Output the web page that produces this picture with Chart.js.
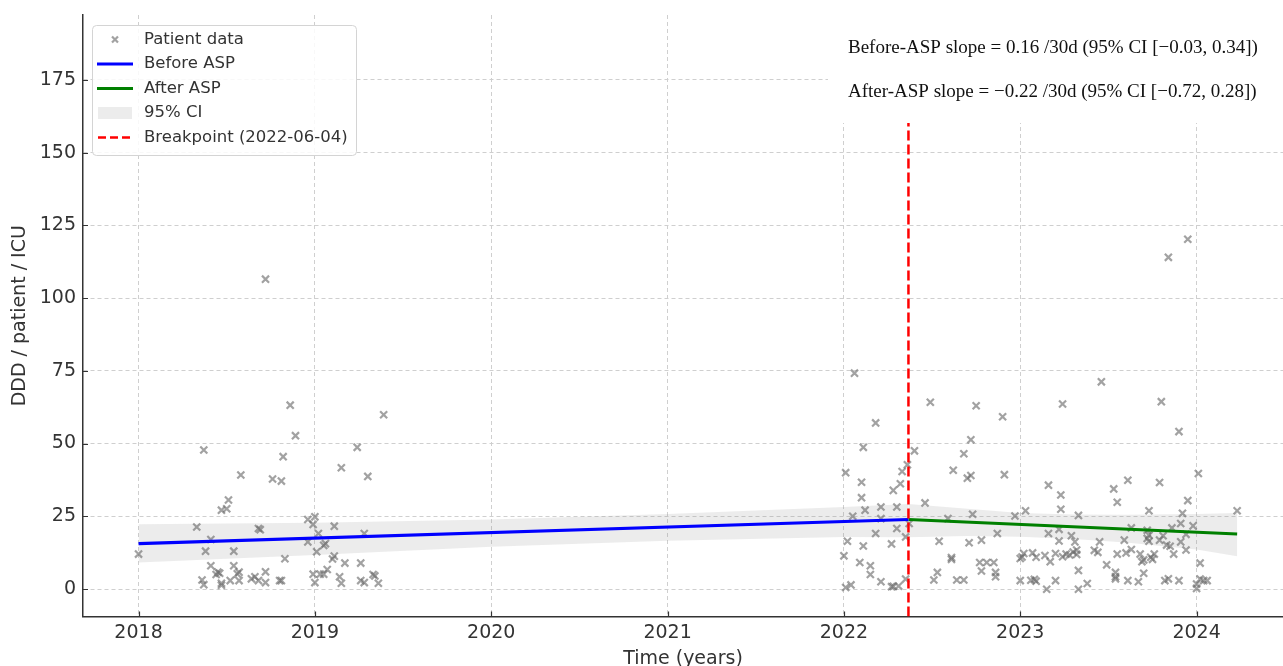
<!DOCTYPE html>
<html>
<head>
<meta charset="utf-8">
<title>DDD / patient / ICU – before and after ASP</title>
<script src="https://cdn.jsdelivr.net/npm/chart.js@4.4.1/dist/chart.umd.min.js"></script>
<style>
  html, body { margin: 0; padding: 0; background: #fff; overflow: hidden; }
  #wrap { width: 1283px; height: 666px; }
</style>
</head>
<body>
<div id="wrap"><canvas id="chart" width="1283" height="666"></canvas></div>
<script>
// patient points, before the programme (decimal years / DDD)
const beforeYears = [2018.00, 2018.33, 2018.37, 2018.41, 2018.38, 2018.41, 2018.36, 2018.37, 2018.45, 2018.46,
  2018.44, 2018.47, 2018.47, 2018.47, 2018.50, 2018.51, 2018.52, 2018.54, 2018.54, 2018.56,
  2018.57, 2018.57, 2018.58, 2018.64, 2018.66, 2018.68, 2018.68, 2018.69, 2018.72, 2018.72,
  2018.72, 2018.76, 2018.80, 2018.81, 2018.81, 2018.82, 2018.83, 2018.86, 2018.89, 2018.96,
  2018.96, 2018.99, 2018.99, 2019.00, 2019.00, 2019.01, 2019.02, 2019.03, 2019.05, 2019.05,
  2019.06, 2019.07, 2019.10, 2019.11, 2019.11, 2019.14, 2019.15, 2019.15, 2019.17, 2019.24,
  2019.26, 2019.26, 2019.28, 2019.28, 2019.30, 2019.33, 2019.34, 2019.36, 2019.39];
const beforeDDD = [12.0, 21.3, 47.8, 17.0, 13.0, 8.0, 3.1, 1.5, 5.8, 5.4,
  5.0, 2.0, 1.3, 27.1, 27.6, 30.6, 2.9, 13.0, 8.0, 5.2,
  5.8, 2.9, 39.2, 3.5, 4.2, 2.9, 20.8, 20.4, 106.5, 5.9,
  2.2, 37.8, 2.9, 37.1, 2.9, 45.5, 10.4, 63.2, 52.7, 23.9,
  16.2, 22.2, 5.1, 24.8, 2.2, 12.8, 19.1, 5.1, 5.1, 15.0,
  15.6, 6.7, 10.3, 11.3, 21.6, 4.2, 2.0, 41.7, 8.9, 48.7,
  8.9, 2.9, 19.1, 2.2, 38.7, 5.0, 4.5, 2.0, 59.9];

// patient points, 2022 onwards
const afterYears = [2022.00, 2022.01, 2022.01, 2022.02, 2022.04, 2022.05, 2022.06, 2022.09, 2022.10, 2022.10,
  2022.11, 2022.11, 2022.12, 2022.15, 2022.15, 2022.18, 2022.18, 2022.21, 2022.21, 2022.21,
  2022.27, 2022.27, 2022.28, 2022.28, 2022.30, 2022.30, 2022.31, 2022.32, 2022.33, 2022.35,
  2022.35, 2022.36, 2022.37, 2022.40, 2022.46, 2022.49, 2022.51, 2022.53, 2022.54, 2022.59,
  2022.61, 2022.61, 2022.62, 2022.64, 2022.68, 2022.68, 2022.70, 2022.71, 2022.72, 2022.72,
  2022.73, 2022.75, 2022.77, 2022.78, 2022.78, 2022.81, 2022.85, 2022.86, 2022.86, 2022.87,
  2022.90, 2022.91, 2022.97, 2023.00, 2023.00, 2023.01, 2023.02, 2023.03, 2023.06, 2023.07,
  2023.08, 2023.09, 2023.09, 2023.14, 2023.15, 2023.16, 2023.16, 2023.17, 2023.20, 2023.20,
  2023.22, 2023.22, 2023.23, 2023.23, 2023.24, 2023.24, 2023.26, 2023.28, 2023.29, 2023.30,
  2023.31, 2023.32, 2023.32, 2023.33, 2023.33, 2023.33, 2023.38, 2023.42, 2023.44, 2023.45,
  2023.46, 2023.49, 2023.53, 2023.54, 2023.54, 2023.54, 2023.55, 2023.55, 2023.59, 2023.60,
  2023.61, 2023.61, 2023.63, 2023.63, 2023.67, 2023.68, 2023.69, 2023.70, 2023.70, 2023.72,
  2023.72, 2023.73, 2023.73, 2023.73, 2023.74, 2023.75, 2023.76, 2023.79, 2023.79, 2023.80,
  2023.81, 2023.82, 2023.83, 2023.84, 2023.84, 2023.85, 2023.86, 2023.87, 2023.90, 2023.90,
  2023.91, 2023.91, 2023.92, 2023.94, 2023.94, 2023.95, 2023.95, 2023.98, 2024.00, 2024.00,
  2024.01, 2024.02, 2024.02, 2024.04, 2024.06, 2024.23];
const afterDDD = [11.4, 0.5, 40.0, 16.4, 1.4, 25.0, 74.2, 9.1, 36.7, 31.4,
  48.7, 14.8, 27.1, 8.0, 5.0, 57.1, 19.1, 28.2, 24.2, 2.5,
  15.5, 0.8, 33.9, 0.9, 28.2, 20.8, 1.0, 36.2, 40.4, 17.9,
  3.4, 42.7, 22.5, 47.5, 29.6, 64.2, 3.1, 5.7, 16.4, 24.2,
  10.8, 10.2, 40.8, 3.1, 46.5, 3.1, 38.1, 15.9, 39.0, 51.3,
  25.7, 63.0, 9.1, 6.2, 16.8, 9.1, 9.1, 5.7, 4.2, 19.1,
  59.2, 39.3, 25.1, 10.5, 2.9, 11.0, 12.2, 26.9, 3.0, 12.4,
  3.3, 10.9, 2.7, 11.5, -0.1, 35.7, 19.1, 9.4, 12.2, 2.9,
  20.5, 16.5, 32.3, 27.4, 63.6, 11.1, 12.0, 11.7, 18.3, 12.7,
  16.2, 13.4, 11.9, 25.3, 6.4, -0.1, 1.9, 13.3, 12.6, 16.2,
  71.2, 8.3, 34.4, 5.7, 4.2, 3.5, 29.8, 12.0, 16.8, 12.4,
  37.4, 2.9, 21.0, 13.6, 2.5, 12.0, 9.4, 10.0, 5.4, 20.2,
  17.4, 18.5, 16.4, 26.9, 10.9, 10.2, 12.0, 36.6, 16.8, 64.4,
  18.3, 2.9, 15.1, 3.5, 114.0, 14.7, 21.0, 12.0, 54.1, 2.9,
  22.5, 16.2, 26.0, 18.8, 13.4, 30.4, 120.2, 21.7, 1.7, 0.2,
  39.7, 8.9, 3.4, 2.9, 2.9, 26.9];

// fitted segments and their 95% CI
const fitBeforeX = [2018.0, 2022.366];
const fitBeforeY = [15.6, 23.9];
const fitAfterX = [2022.366, 2024.23];
const fitAfterY = [23.9, 18.9];
const ciBeforeX = [2018.0, 2019.0, 2020.0, 2021.0, 2022.0, 2022.366];
const ciBeforeHi = [22.3, 22.8, 23.9, 25.8, 28.2, 29.2];
const ciBeforeLo = [9.1, 11.7, 14.5, 16.6, 17.9, 17.8];
const ciAfterX = [2022.366, 2022.7, 2023.0, 2023.3, 2023.6, 2024.0, 2024.23];
const ciAfterHi = [29.2, 27.6, 26.1, 25.6, 25.5, 25.8, 26.1];
const ciAfterLo = [17.8, 18.2, 18.0, 17.2, 16.0, 13.6, 11.3];

const breakpointYear = 2022.366;
const legendLabels = ["Patient data", "Before ASP", "After ASP", "95% CI", "Breakpoint (2022-06-04)"];
const slopeNotes = [
  "Before-ASP slope = 0.16 /30d (95% CI [\u22120.03, 0.34])",
  "After-ASP slope = \u22120.22 /30d (95% CI [\u22120.72, 0.28])"
];

const X_MIN = 2017.685, X_MAX = 2024.49;
const Y_MIN = -9.45, Y_MAX = 197.3;

const SANS = '"DejaVu Sans", sans-serif';
const GREY_PT = "rgba(105,105,105,0.62)";
const BAND = "rgba(150,150,150,0.18)";

function pts(xs, ys) {
  return xs.map((x, i) => ({ x: x, y: ys[i] }));
}

// matplotlib style ticks pointing into the plot
const innerTicks = {
  id: "innerTicks",
  afterDatasetsDraw(chart) {
    const { ctx, chartArea, scales } = chart;
    ctx.save();
    ctx.strokeStyle = "#333";
    ctx.lineWidth = 1.2;
    ctx.beginPath();
    scales.y.ticks.forEach(t => {
      const y = Math.round(scales.y.getPixelForValue(t.value)) + 0.5;
      ctx.moveTo(chartArea.left, y);
      ctx.lineTo(chartArea.left + 5, y);
    });
    scales.x.ticks.forEach(t => {
      const x = Math.round(scales.x.getPixelForValue(t.value)) + 0.5;
      ctx.moveTo(x, chartArea.bottom);
      ctx.lineTo(x, chartArea.bottom - 5);
    });
    ctx.stroke();
    ctx.restore();
  }
};

// white text box with the two slope notes
const slopeBox = {
  id: "slopeBox",
  afterDatasetsDraw(chart) {
    const ctx = chart.ctx;
    ctx.save();
    ctx.fillStyle = "#fff";
    ctx.fillRect(828, 0, 1283 - 828, 123);
    ctx.font = '100px "Liberation Serif", serif';
    const w = ctx.measureText(slopeNotes[0]).width;
    const size = 100 * 410 / w;
    ctx.font = size.toFixed(2) + 'px "Liberation Serif", serif';
    ctx.fillStyle = "#111";
    ctx.textBaseline = "alphabetic";
    ctx.fillText(slopeNotes[0], 848, 53);
    ctx.fillText(slopeNotes[1], 848, 96.5);
    ctx.restore();
  }
};

const boxLegend = {
  id: "boxLegend",
  afterDraw(chart) {
    const ctx = chart.ctx;
    ctx.save();
    ctx.beginPath();
    ctx.roundRect(92.5, 25.5, 264, 130, 4);
    ctx.fillStyle = "rgba(255,255,255,0.85)";
    ctx.fill();
    ctx.strokeStyle = "#d4d4d4";
    ctx.lineWidth = 1;
    ctx.stroke();

    const rows = [39.5, 64, 88.5, 113, 137.5];
    const hx0 = 97, hx1 = 133;
    // patient marker
    ctx.strokeStyle = GREY_PT;
    ctx.lineWidth = 2.2;
    ctx.beginPath();
    ctx.moveTo(112, rows[0] - 3); ctx.lineTo(118, rows[0] + 3);
    ctx.moveTo(118, rows[0] - 3); ctx.lineTo(112, rows[0] + 3);
    ctx.stroke();
    // fits
    ctx.lineWidth = 3;
    ctx.strokeStyle = "#0000ff";
    ctx.beginPath(); ctx.moveTo(hx0, rows[1]); ctx.lineTo(hx1, rows[1]); ctx.stroke();
    ctx.strokeStyle = "#008000";
    ctx.beginPath(); ctx.moveTo(hx0, rows[2]); ctx.lineTo(hx1, rows[2]); ctx.stroke();
    // band
    ctx.fillStyle = "#ececec";
    ctx.fillRect(98, rows[3] - 6, 34, 12);
    // breakpoint
    ctx.strokeStyle = "#ff0000";
    ctx.lineWidth = 2.5;
    ctx.setLineDash([8, 4]);
    ctx.beginPath(); ctx.moveTo(hx0 + 1, rows[4]); ctx.lineTo(hx1, rows[4]); ctx.stroke();
    ctx.setLineDash([]);

    ctx.fillStyle = "#333";
    ctx.font = "16.5px " + SANS;
    ctx.textBaseline = "middle";
    legendLabels.forEach((t, i) => ctx.fillText(t, 144, rows[i]));
    ctx.restore();
  }
};

const lineDefaults = { type: "line", pointRadius: 0, tension: 0, fill: false };

new Chart(document.getElementById("chart"), {
  type: "scatter",
  data: {
    datasets: [
      Object.assign({}, lineDefaults, { label: "ci-before-hi", data: pts(ciBeforeX, ciBeforeHi), borderWidth: 0, fill: "+1", backgroundColor: BAND, order: 6 }),
      Object.assign({}, lineDefaults, { label: "ci-before-lo", data: pts(ciBeforeX, ciBeforeLo), borderWidth: 0, order: 6 }),
      Object.assign({}, lineDefaults, { label: "ci-after-hi", data: pts(ciAfterX, ciAfterHi), borderWidth: 0, fill: "+1", backgroundColor: BAND, order: 6 }),
      Object.assign({}, lineDefaults, { label: "ci-after-lo", data: pts(ciAfterX, ciAfterLo), borderWidth: 0, order: 6 }),
      {
        type: "scatter",
        label: "Patient data",
        data: pts(beforeYears, beforeDDD).concat(pts(afterYears, afterDDD)),
        pointStyle: "crossRot",
        pointRadius: 5,
        pointBorderWidth: 2.2,
        borderColor: GREY_PT,
        backgroundColor: GREY_PT,
        order: 4
      },
      Object.assign({}, lineDefaults, { label: "Before ASP", data: pts(fitBeforeX, fitBeforeY), borderColor: "#0000ff", borderWidth: 3.2, order: 2 }),
      Object.assign({}, lineDefaults, { label: "After ASP", data: pts(fitAfterX, fitAfterY), borderColor: "#008000", borderWidth: 3.2, order: 2 }),
      Object.assign({}, lineDefaults, {
        label: "Breakpoint",
        data: [{ x: breakpointYear, y: Y_MIN }, { x: breakpointYear, y: Y_MAX }],
        borderColor: "#ff0000", borderWidth: 2.5, borderDash: [10, 4], order: 1
      })
    ]
  },
  options: {
    responsive: false,
    devicePixelRatio: 1,
    animation: false,
    layout: { autoPadding: false, padding: { top: 15, left: 0, right: 0, bottom: 0 } },
    plugins: { legend: { display: false }, tooltip: { enabled: false }, title: { display: false } },
    scales: {
      x: {
        type: "linear",
        min: X_MIN,
        max: X_MAX,
        grid: { color: "#cfcfcf", lineWidth: 1, drawTicks: false },
        border: { display: true, color: "#333", width: 1.5, dash: [4, 3] },
        ticks: {
          stepSize: 1,
          includeBounds: false,
          padding: 5,
          color: "#333",
          font: { family: SANS, size: 19 },
          callback: v => String(Math.round(v))
        },
        title: { display: true, text: "Time (years)", color: "#333", font: { family: SANS, size: 19, lineHeight: 1 }, padding: { top: 0, bottom: -3 } },
        afterFit: s => { s.height = 49.5; s.paddingLeft = 0; s.paddingRight = 0; }
      },
      y: {
        min: Y_MIN,
        max: Y_MAX,
        grid: { color: "#cfcfcf", lineWidth: 1, drawTicks: false },
        border: { display: true, color: "#333", width: 1.5, dash: [4, 3] },
        ticks: {
          stepSize: 25,
          includeBounds: false,
          padding: 7,
          color: "#333",
          font: { family: SANS, size: 19 },
          callback: v => String(Math.round(v))
        },
        title: { display: true, text: "DDD / patient / ICU", color: "#333", font: { family: SANS, size: 19 }, padding: { top: 9, bottom: 0 } },
        afterFit: s => { s.width = 83; s.paddingTop = 0; s.paddingBottom = 0; }
      }
    }
  },
  plugins: [innerTicks, slopeBox, boxLegend]
});
</script>
</body>
</html>
